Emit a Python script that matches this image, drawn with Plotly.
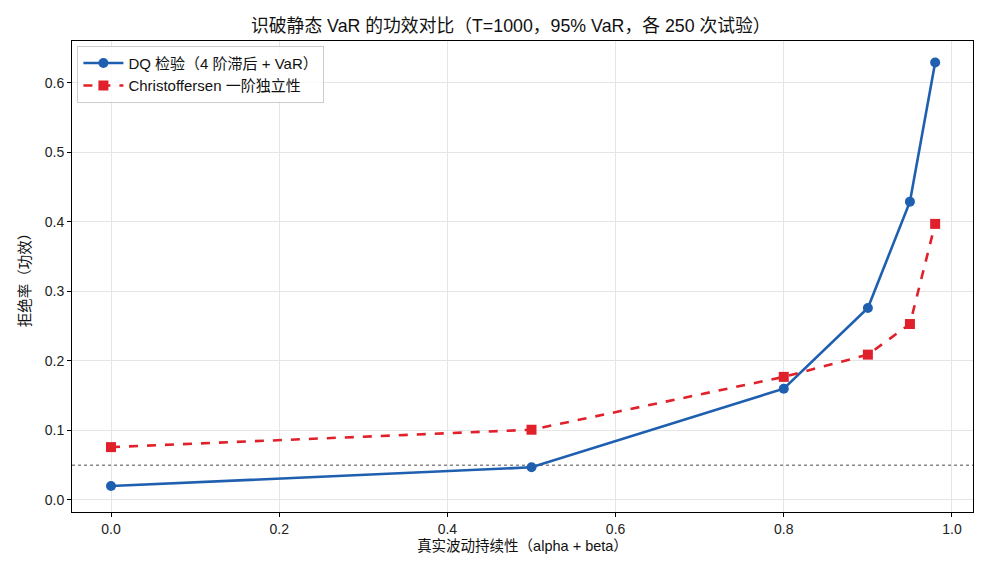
import plotly.graph_objects as go

persistence = [0.0, 0.5, 0.8, 0.9, 0.95, 0.98]
dq_power = [0.020, 0.047, 0.160, 0.276, 0.429, 0.629]
chr_power = [0.076, 0.101, 0.177, 0.209, 0.253, 0.397]
nominal = 0.05

title = "识破静态 VaR 的功效对比（T=1000，95% VaR，各 250 次试验）"
xlabel = "真实波动持续性（alpha + beta）"
ylabel = "拒绝率（功效）"
name_dq = "DQ 检验（4 阶滞后 + VaR）"
name_chr = "Christoffersen 一阶独立性"

font = "Liberation Sans, Noto Sans CJK SC, sans-serif"
blue = "#1f5fb0"
red = "#e0202a"

fig = go.Figure()
fig.add_trace(go.Scatter(x=persistence, y=dq_power, mode="lines+markers", name=name_dq,
                         line=dict(color=blue, width=2.6),
                         marker=dict(symbol="circle", size=10, color=blue)))
fig.add_trace(go.Scatter(x=persistence, y=chr_power, mode="lines+markers", name=name_chr,
                         line=dict(color=red, width=2.6, dash="dash"),
                         marker=dict(symbol="square", size=10, color=red)))
fig.add_shape(type="line", xref="paper", x0=0, x1=1, yref="y", y0=nominal, y1=nominal,
              line=dict(color="#888888", width=1.5, dash="dot"), layer="below")

axis_common = dict(showline=True, linecolor="black", linewidth=1, mirror=True,
                   ticks="outside", ticklen=4, tickcolor="black",
                   showgrid=True, gridcolor="#e5e5e5", gridwidth=1, zeroline=False,
                   tickfont=dict(family=font, size=14, color="#222"))
fig.update_xaxes(range=[-0.0464, 1.025], tickvals=[0, 0.2, 0.4, 0.6, 0.8, 1.0],
                 ticktext=["0.0", "0.2", "0.4", "0.6", "0.8", "1.0"],
                 title=dict(text=xlabel, font=dict(family=font, size=14.5, color="#111"), standoff=5),
                 **axis_common)
fig.update_yaxes(range=[-0.0173, 0.660], tickvals=[0, 0.1, 0.2, 0.3, 0.4, 0.5, 0.6],
                 ticktext=["0.0", "0.1", "0.2", "0.3", "0.4", "0.5", "0.6"],
                 title=dict(text=ylabel, font=dict(family=font, size=14.5, color="#111"), standoff=10),
                 **axis_common)

fig.update_layout(
    width=990, height=572,
    margin=dict(l=72, r=17, t=41, b=60),
    paper_bgcolor="white", plot_bgcolor="white",
    title=dict(text=title, x=0.516, xanchor="center", y=0.955, yanchor="middle",
               font=dict(family=font, size=17.8, color="#111")),
    legend=dict(x=0.006, y=0.99, xanchor="left", yanchor="top",
                bgcolor="rgba(255,255,255,0.85)", bordercolor="#cccccc", borderwidth=1,
                itemwidth=40,
                font=dict(family=font, size=15, color="#111")),
    showlegend=True,
)

fig.write_html("out.html")
